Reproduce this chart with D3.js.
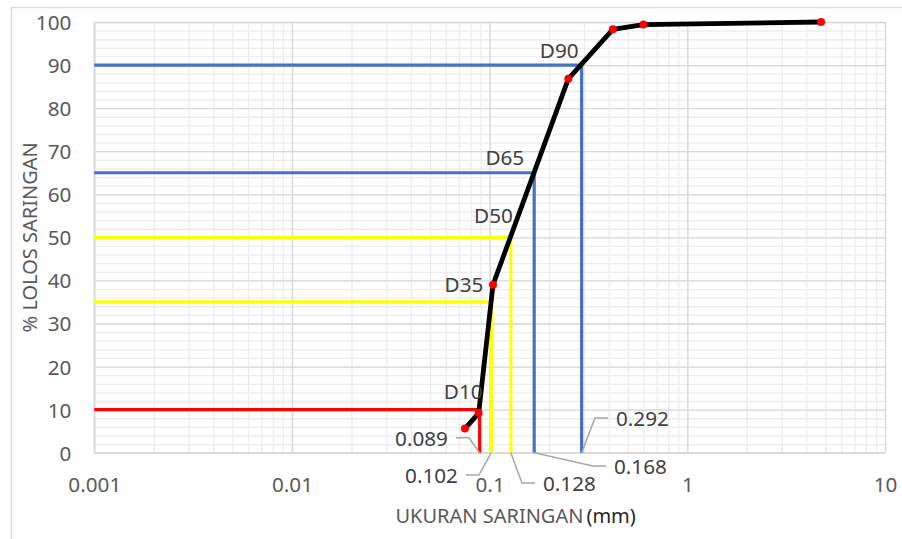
<!DOCTYPE html>
<html>
<head>
<meta charset="utf-8">
<script src="https://cdn.jsdelivr.net/npm/d3@7"></script>
<style>
  body { margin: 0; background: #fff; }
  text { font-family: "Noto Sans", "Open Sans", sans-serif; }
</style>
</head>
<body>
<div id="chart"></div>
<script>
// sieve analysis data
const sieveSize = [0.075, 0.088, 0.104, 0.25, 0.42, 0.6, 4.75];
const percentPassing = [5.6, 9.2, 39.0, 86.8, 98.3, 99.4, 100];

// characteristic diameters
const dNames = ["D10", "D35", "D50", "D65", "D90"];
const dPercent = [10, 35, 50, 65, 90];
const dSize = [0.089, 0.102, 0.128, 0.168, 0.292];
const dColors = ["#FF0000", "#FFFF00", "#FFFF00", "#4472C4", "#4472C4"];

const xTicks = [0.001, 0.01, 0.1, 1, 10];
const yTicks = [0, 10, 20, 30, 40, 50, 60, 70, 80, 90, 100];

function drawChart() {
    var width = 902;
    var height = 539;
    var plotLeft = 94.3, plotRight = 885, plotTop = 22, plotBottom = 452.7;

    var svg = d3.select("#chart")
        .append("svg")
        .attr("width", width)
        .attr("height", height);

    svg.append("rect").attr("width", width).attr("height", height).attr("fill", "#fff");

    // outer chart border (only left/top visible)
    svg.append("path")
        .attr("d", "M11.5," + height + "V7.5H" + width)
        .attr("fill", "none")
        .attr("stroke", "#d9d9d9")
        .attr("stroke-width", 1.5);

    const x = d3.scaleLog().domain([0.001, 10]).range([plotLeft, plotRight]);
    const y = d3.scaleLinear().domain([0, 100]).range([plotBottom, plotTop]);

    // minor grid
    svg.append("g")
        .attr("transform", `translate(0, ${plotBottom})`)
        .call(d3.axisBottom(x).tickValues(x.ticks()).tickSize(-(plotBottom - plotTop)).tickFormat(""))
        .call(g => g.select(".domain").remove())
        .call(g => g.selectAll("line").attr("stroke", "#ececec").attr("stroke-width", 1.3));

    svg.append("g")
        .attr("transform", `translate(${plotLeft}, 0)`)
        .call(d3.axisLeft(y).tickValues(d3.range(0, 101, 2)).tickSize(-(plotRight - plotLeft)).tickFormat(""))
        .call(g => g.select(".domain").remove())
        .call(g => g.selectAll("line").attr("stroke", "#ececec").attr("stroke-width", 1.3));

    // major grid + tick labels
    svg.append("g")
        .attr("transform", `translate(0, ${plotBottom})`)
        .call(d3.axisBottom(x).tickValues(xTicks).tickSize(-(plotBottom - plotTop)).tickPadding(25).tickFormat(d3.format("~g")))
        .call(g => g.select(".domain").remove())
        .call(g => g.selectAll("line").attr("stroke", "#d9d9d9").attr("stroke-width", 1.3))
        .call(g => g.selectAll("text").attr("fill", "#595959").attr("font-size", "20.7px")
            .attr("font-family", "Noto Sans"));

    svg.append("g")
        .attr("transform", `translate(${plotLeft}, 0)`)
        .call(d3.axisLeft(y).tickValues(yTicks).tickSize(-(plotRight - plotLeft)).tickPadding(23))
        .call(g => g.select(".domain").remove())
        .call(g => g.selectAll("line").attr("stroke", "#d9d9d9").attr("stroke-width", 1.3))
        .call(g => g.selectAll("text").attr("fill", "#595959").attr("font-size", "20.7px")
            .attr("font-family", "Noto Sans").attr("dy", "0.36em"));

    // axis lines
    svg.append("path")
        .attr("d", `M${plotLeft},${plotTop}V${plotBottom}H${plotRight}`)
        .attr("fill", "none")
        .attr("stroke", "#d9d9d9")
        .attr("stroke-width", 1.5);

    // D lines
    svg.append("g")
        .selectAll("path")
        .data(dNames)
        .join("path")
        .attr("d", (d, i) => `M${x(0.001)},${y(dPercent[i])}H${x(dSize[i])}V${y(0)}`)
        .attr("fill", "none")
        .attr("stroke", (d, i) => dColors[i])
        .attr("stroke-width", 3.2);

    // gradation curve
    const points = sieveSize.map((s, i) => [s, percentPassing[i]]);
    svg.append("path")
        .datum(points)
        .attr("d", d3.line().x(d => x(d[0])).y(d => y(d[1])))
        .attr("fill", "none")
        .attr("stroke", "#000")
        .attr("stroke-width", 4.8)
        .attr("stroke-linejoin", "round");

    svg.append("g")
        .selectAll("circle")
        .data(points)
        .join("circle")
        .attr("cx", d => x(d[0]))
        .attr("cy", d => y(d[1]))
        .attr("r", 4)
        .attr("fill", "#FF0000");

    // D labels (end anchored near the corner)
    const dLabelNudge = [3, -8, 2, -10, -3];
    const dLabelLift = [10.5, 10, 14, 8, 7];
    svg.append("g")
        .selectAll("text")
        .data(dNames)
        .join("text")
        .attr("x", (d, i) => x(dSize[i]) + dLabelNudge[i])
        .attr("y", (d, i) => y(dPercent[i]) - dLabelLift[i])
        .attr("text-anchor", "end")
        .attr("font-size", "20.7px")
        .attr("fill", "#404040")
        .text(d => d);

    // value labels with leader lines: knee offset from (D, 0) and side
    const knee = [[-10.7, -15], [-12.4, 22.3], [11.1, 30.3], [58.8, 13.3], [13.3, -34.7]];
    const side = [-1, -1, 1, 1, 1];
    const leaders = svg.append("g");
    dSize.forEach(function (s, i) {
        var px = x(s), py = y(0);
        var kx = px + knee[i][0], ky = py + knee[i][1];
        leaders.append("path")
            .attr("d", `M${px},${py}L${kx},${ky}H${kx + side[i] * 13}`)
            .attr("fill", "none")
            .attr("stroke", "#a6a6a6")
            .attr("stroke-width", 1.5);
        leaders.append("text")
            .attr("x", kx + side[i] * 21)
            .attr("y", ky + 1)
            .attr("dy", "0.36em")
            .attr("text-anchor", side[i] < 0 ? "end" : "start")
            .attr("font-size", "20.7px")
            .attr("fill", "#404040")
            .text(d3.format(".3f")(s));
    });

    // axis titles
    var xt = svg.append("text")
        .attr("x", (plotLeft + plotRight) / 2 + 26)
        .attr("y", 523)
        .attr("text-anchor", "middle")
        .attr("font-size", "20px");
    xt.append("tspan").attr("fill", "#595959").text("UKURAN SARINGAN");
    xt.append("tspan").attr("fill", "#262626").attr("dx", "3").text("(mm)");

    svg.append("text")
        .attr("transform", `translate(37, ${(plotTop + plotBottom) / 2}) rotate(-90)`)
        .attr("text-anchor", "middle")
        .attr("font-size", "20px")
        .attr("fill", "#595959")
        .text("% LOLOS SARINGAN");
}

drawChart();
</script>
</body>
</html>
